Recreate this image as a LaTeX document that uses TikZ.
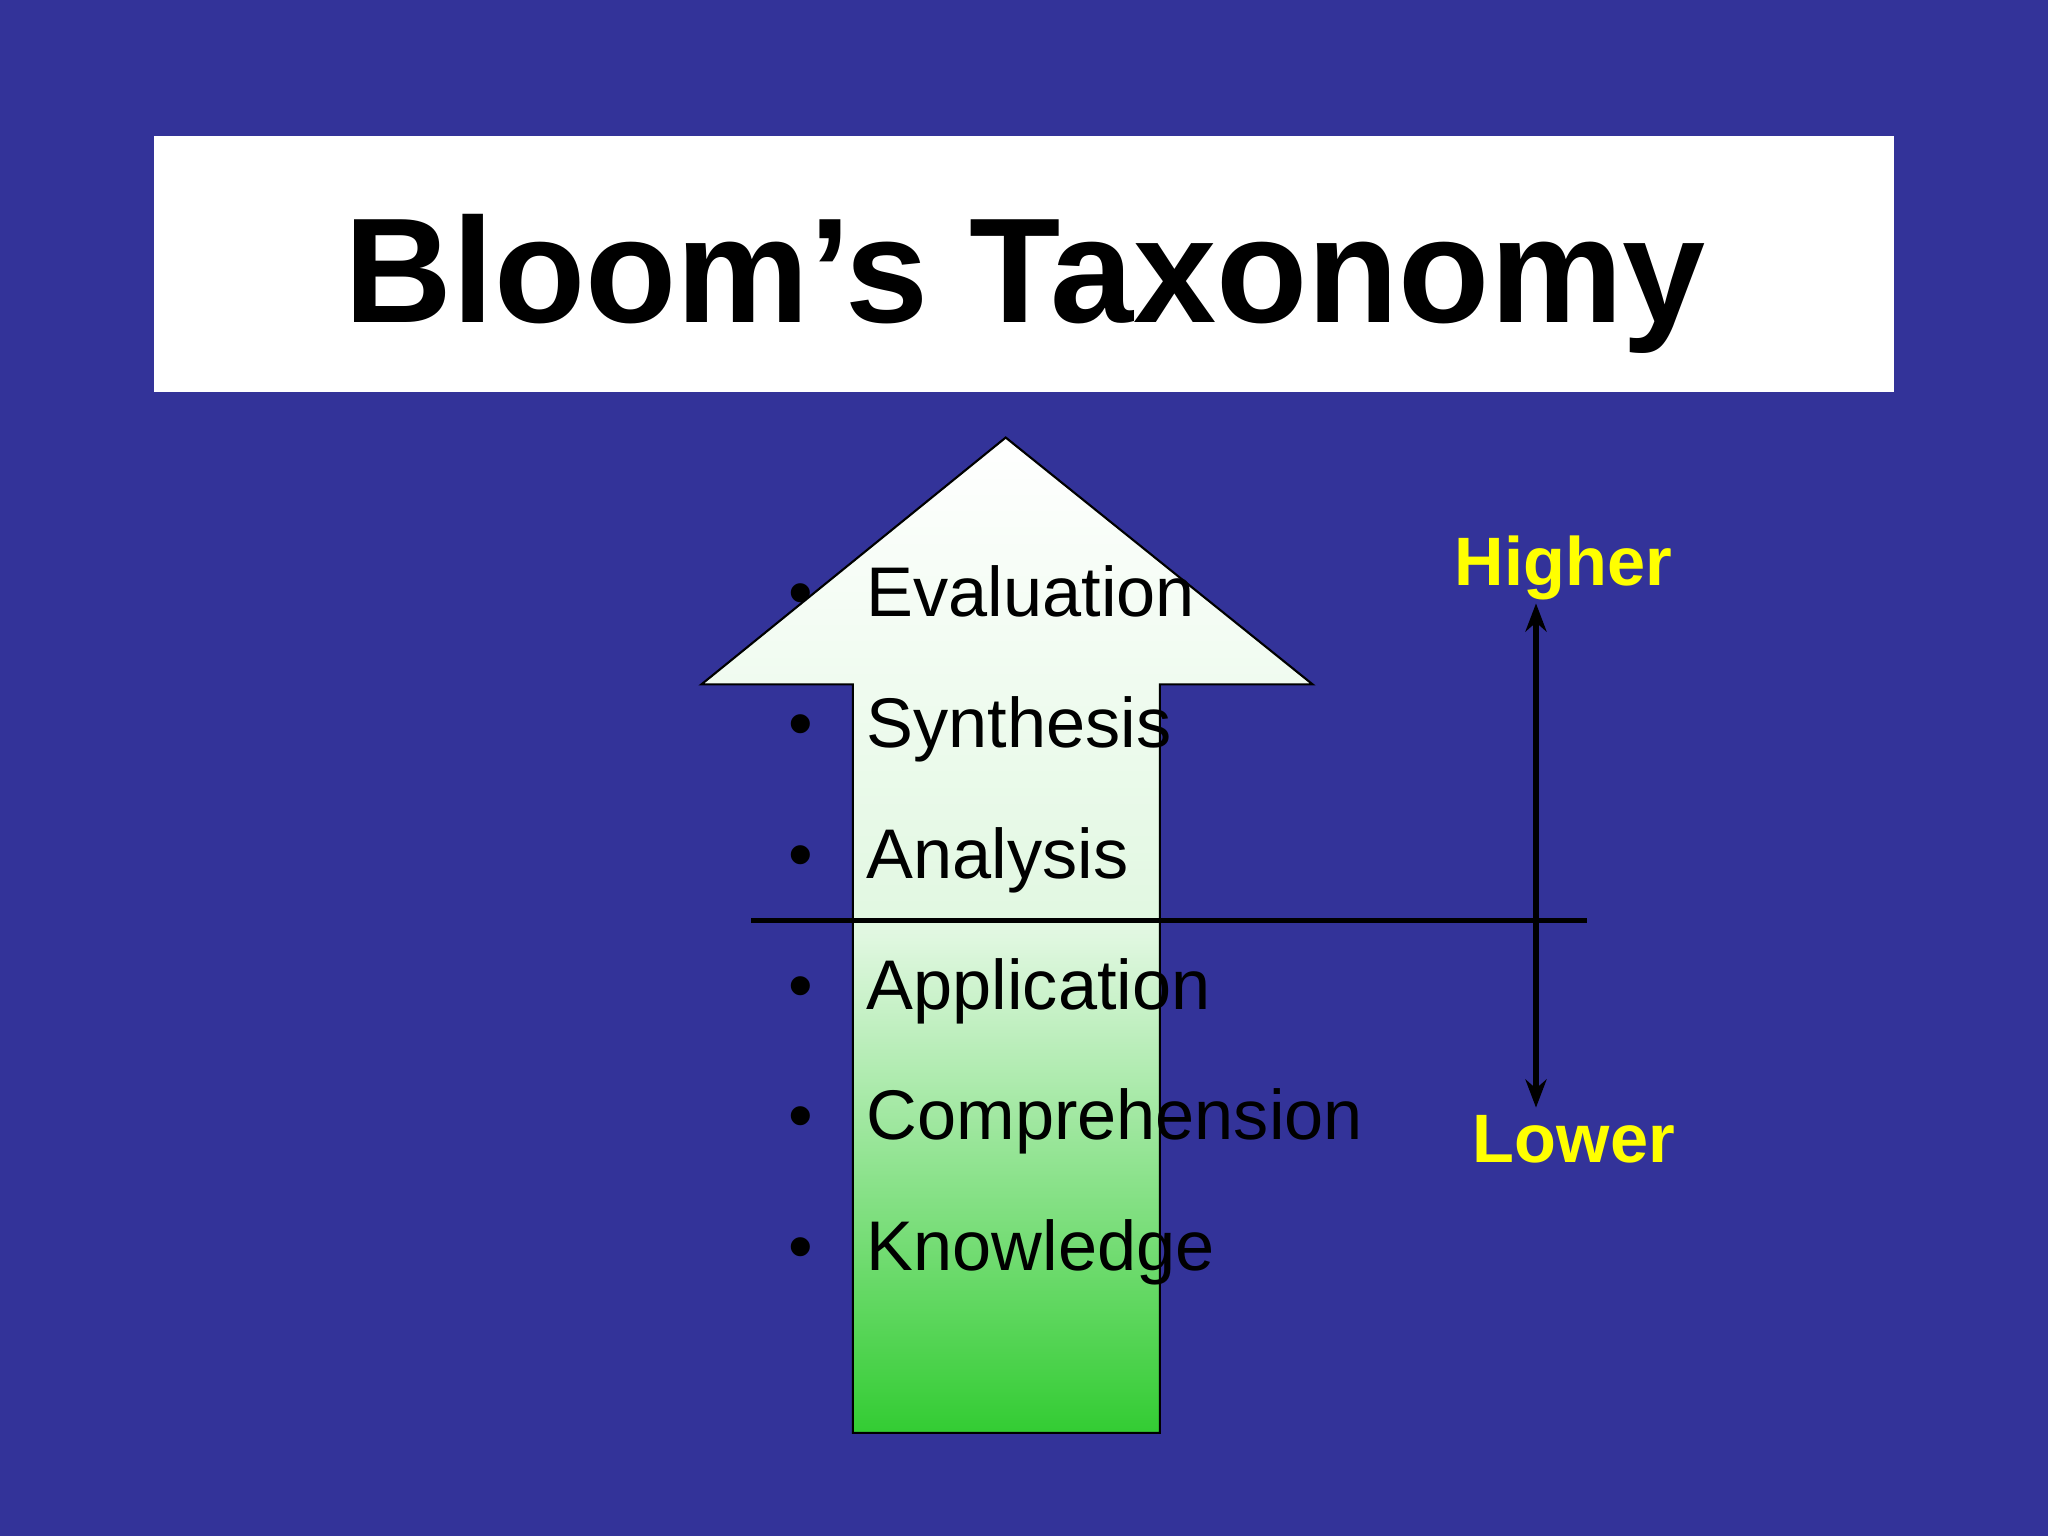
\documentclass[tikz,border=0pt]{standalone}
\usepackage{fontspec}
\setmainfont{Liberation Sans}
\usetikzlibrary{arrows.meta}
\definecolor{bg}{RGB}{51,51,153}
\definecolor{gr}{RGB}{51,204,51}
\definecolor{yl}{RGB}{255,255,0}
\tikzset{item/.style={anchor=base west,font=\fontsize{20}{24}\selectfont,inner sep=0pt},
bul/.style={anchor=base,font=\fontsize{20}{24}\selectfont,inner sep=0pt},
lab/.style={font=\bfseries\fontsize{19.5}{24}\selectfont,text=yl,inner sep=0pt}}
\begin{document}
\begin{tikzpicture}[x=0.01306cm,y=-0.01306cm]
\fill[bg] (0,0) rectangle (1568,1176);
\useasboundingbox (0,0) rectangle (1568,1176);
\fill[white] (118,104) rectangle (1450,300);
\node[font=\bfseries\fontsize{42.5}{50}\selectfont,anchor=base] (title) at (785,247) {Bloom’s Taxonomy};
\shade[top color=white,bottom color=gr,middle color=white!85!gr,draw=black,line width=0.6pt]
 (770,335) -- (1005,524) -- (888,524) -- (888,1097) -- (653,1097) -- (653,524) -- (537,524) -- cycle;
\foreach \t [count=\i] in {Evaluation,Synthesis,Analysis,Application,Comprehension,Knowledge}{
 \node[bul] (b\i) at (613,{456+100.2*(\i-1)+16}) {•};
 \node[item] (t\i) at (663,{456+100.2*(\i-1)+16}) {\t};
}
\coordinate (hl) at (575,705); \coordinate (hr) at (1215,705);
\draw[line width=1.5pt] (hl) -- (hr);
\coordinate (vt) at (1176,462); \coordinate (vb) at (1176,848);
\draw[line width=1.5pt,{Stealth[length=8pt,width=6pt]}-{Stealth[length=8pt,width=6pt]}] (vt) -- (vb);
\node[lab] (hi) at (1197,435) {Higher};
\node[lab] (lo) at (1205,872) {Lower};
\end{tikzpicture}
\end{document}
